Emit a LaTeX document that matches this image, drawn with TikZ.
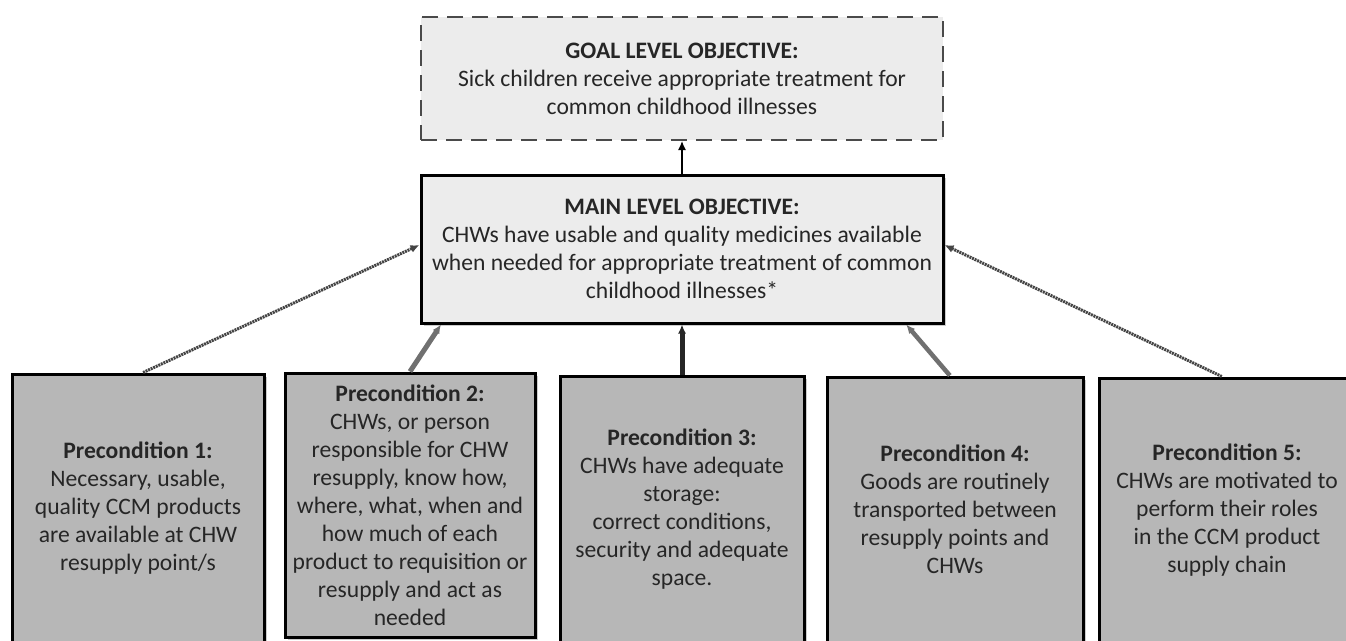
\documentclass[tikz,border=0pt]{standalone}
\usepackage{fontspec}
\setmainfont{Carlito}
\usetikzlibrary{arrows.meta,calc,shadows}
\definecolor{precfill}{HTML}{B7B7B7}
\definecolor{lightfill}{HTML}{ECECEC}
\definecolor{textc}{HTML}{262626}
\definecolor{dashc}{HTML}{4A4A4A}
\definecolor{linkdark}{HTML}{444444}
\definecolor{linkmid}{HTML}{707070}
\begin{document}
\begin{tikzpicture}[x=1pt,y=-1pt,
  basebox/.style={rectangle, inner sep=2pt, align=center, text=textc,
    font=\fontsize{23.6}{28}\selectfont},
  shad/.style={drop shadow={shadow xshift=2.5pt, shadow yshift=-2.5pt, fill=gray!40, opacity=1}},
  goalbox/.style={basebox, draw=dashc, line width=2pt, dash pattern=on 16pt off 9pt, fill=lightfill,
    minimum width=522pt, minimum height=123pt},
  mainbox/.style={basebox, shad, draw=black, line width=3pt, fill=lightfill,
    minimum width=522pt, minimum height=148pt},
  precbox/.style={basebox, shad, draw=black, line width=3pt, fill=precfill},
  tip/.style={-{Latex[length=9pt,width=8pt]}},
  texlink/.style={tip, draw=linkdark, line width=3pt, dash pattern=on 2pt off 0.8pt},
  thicklink/.style={tip, line width=5pt}
]
\useasboundingbox (0,0) rectangle (1346,640);
\clip (0,0) rectangle (1346,640);

\node[goalbox] (goal) at (682,78.5) {\textbf{GOAL LEVEL OBJECTIVE:}\\Sick children receive appropriate treatment for\\common childhood illnesses};

\node[mainbox] (main) at (682,249) {\textbf{MAIN LEVEL OBJECTIVE:}\\CHWs have usable and quality medicines available\\when needed for appropriate treatment of common\\childhood illnesses*};

\node[precbox, minimum width=252pt, minimum height=268pt] (p1) at (138,508)
  {\textbf{Precondition 1:}\\Necessary, usable,\\quality CCM products\\are available at CHW\\resupply point/s};
\node[precbox, minimum width=250pt, minimum height=264pt] (p2) at (410,505)
  {\textbf{Precondition 2:}\\CHWs, or person\\responsible for CHW\\resupply, know how,\\where, what, when and\\how much of each\\product to requisition or\\resupply and act as\\needed};
\node[precbox, minimum width=244pt, minimum height=266pt] (p3) at (682,509)
  {\textbf{Precondition 3:}\\CHWs have adequate\\storage:\\correct conditions,\\security and adequate\\space.};
\node[precbox, minimum width=256pt, minimum height=265pt] (p4) at (955,509.5)
  {\textbf{Precondition 4:}\\Goods are routinely\\transported between\\resupply points and\\CHWs};
\node[precbox, minimum width=256pt, minimum height=264pt] (p5) at (1227,510)
  {\textbf{Precondition 5:}\\CHWs are motivated to\\perform their roles\\in the CCM product\\supply chain};

% connectors
\draw[tip, line width=1.4pt, draw=black] (main.north) -- (goal.south);
\draw[texlink] ($(p1.north west)!0.52!(p1.north east)$) -- ([yshift=4pt]main.west);
\draw[thicklink, draw=linkmid] (p2.north) -- ($(main.south west)!0.041!(main.south east)$);
\draw[thicklink, draw=textc] (p3.north) -- (main.south);
\draw[thicklink, draw=linkmid, line width=4.5pt] ($(p4.north west)!0.48!(p4.north east)$) -- ($(main.south west)!0.927!(main.south east)$);
\draw[texlink] ($(p5.north west)!0.48!(p5.north east)$) -- ([yshift=4pt]main.east);
\end{tikzpicture}
\end{document}
